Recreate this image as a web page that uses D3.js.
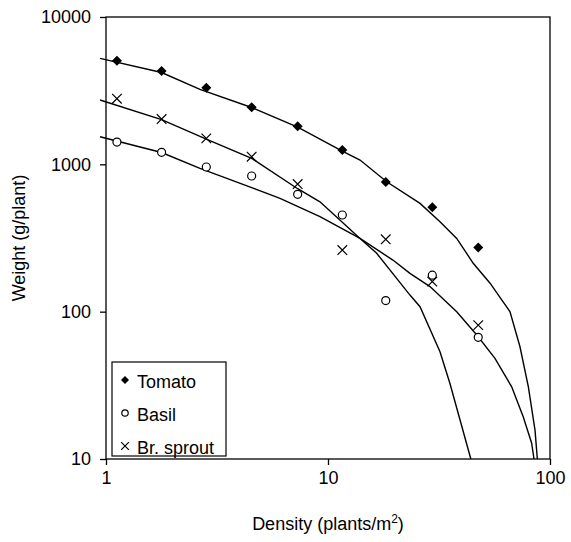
<!DOCTYPE html>
<html>
<head>
<meta charset="utf-8">
<script src="https://cdn.jsdelivr.net/npm/d3@7"></script>
<style>
  html, body { margin: 0; padding: 0; background: #fff; }
  svg { display: block; font-family: Arial, "Liberation Sans", sans-serif; }
</style>
</head>
<body>
<svg id="chart" width="571" height="542"></svg>
<script>
// Planting density (plants/m2) at which each crop was sampled
const density = [1.12, 1.78, 2.83, 4.53, 7.3, 11.6, 18.2, 29.5, 47.5];

// Measured weight per plant (g)
const tomato = [5050, 4300, 3310, 2440, 1810, 1250, 760, 511, 273];
const basil  = [1417, 1206, 959, 833, 626, 453, 119, 177, 67];
const sprout = [2790, 2030, 1500, 1127, 735, 262, 310, 160, 81];

// Fitted curves, as [density, weight] pairs
const tomatoFit = [[0.94, 5243], [1.78, 4200], [2.65, 3230], [4.53, 2430], [7.30, 1791],
  [11.6, 1231], [13.94, 1070], [18.38, 762], [25.97, 543], [31.95, 408], [38.0, 314],
  [45.1, 213], [53.7, 156], [66.0, 100], [73.2, 58], [79.9, 30.9], [85.6, 15.7], [87.7, 10]];
const basilFit = [[0.94, 1540], [1.78, 1203], [2.65, 939], [4.53, 694], [6.08, 588],
  [9.20, 441], [13.94, 314], [19.6, 224], [23.4, 182], [28.8, 148], [38.0, 99.8],
  [46.8, 69.4], [56.5, 48.2], [67.2, 30.9], [75.8, 19.3], [82.7, 12.8], [84.7, 10]];
const sproutFit = [[0.94, 2733], [1.78, 2014], [2.83, 1485], [4.53, 1098], [7.30, 683],
  [9.20, 557], [13.94, 314], [16.57, 249], [23.4, 129.6], [25.97, 108], [31.95, 53.4],
  [35.4, 32.7], [44.0, 10]];

const xTicks = [1, 10, 100];
const yTicks = [10, 100, 1000, 10000];
const legendNames = ["Tomato", "Basil", "Br. sprout"];

const svg = d3.select("#chart");
const plotL = 106, plotR = 550, plotT = 17, plotB = 459;

const x = d3.scaleLog().domain([1, 100]).range([plotL, plotR]);
const y = d3.scaleLog().domain([10, 10000]).range([plotB, plotT]);

const fontSize = 18;

// Axes
const xAxis = d3.axisBottom(x).tickValues(xTicks).tickFormat(d3.format("d"))
  .tickSize(6).tickPadding(6);
const yAxis = d3.axisLeft(y).tickValues(yTicks).tickFormat(d3.format("d"))
  .tickSize(6).tickPadding(9);

const gx = svg.append("g").attr("transform", `translate(0,${plotB})`).call(xAxis);
const gy = svg.append("g").attr("transform", `translate(${plotL},0)`).call(yAxis);
[gx, gy].forEach(g => {
  g.select(".domain").remove();
  g.selectAll(".tick line").attr("stroke", "#000").attr("stroke-width", 1.3);
  g.selectAll(".tick text").attr("fill", "#000")
    .style("font-size", fontSize + "px")
    .style("font-family", 'Arial, "Liberation Sans", sans-serif');
});

// Plot frame
svg.append("rect")
  .attr("x", plotL).attr("y", plotT)
  .attr("width", plotR - plotL).attr("height", plotB - plotT)
  .attr("fill", "none").attr("stroke", "#000").attr("stroke-width", 1.3);

// Fitted curves
const line = d3.line().x(d => x(d[0])).y(d => y(d[1]));
[tomatoFit, basilFit, sproutFit].forEach(fit => {
  svg.append("path").datum(fit)
    .attr("d", line)
    .attr("fill", "none").attr("stroke", "#000").attr("stroke-width", 1.4);
});

// Marker shapes; k scales the marker size
function drawMarker(g, kind, cx, cy, k = 1) {
  if (kind === "diamond") {
    const s = 5 * k;
    g.append("path")
      .attr("d", `M${cx},${cy - s}L${cx + s},${cy}L${cx},${cy + s}L${cx - s},${cy}Z`)
      .attr("fill", "#000");
  } else if (kind === "circle") {
    g.append("circle").attr("cx", cx).attr("cy", cy).attr("r", 4 * k)
      .attr("fill", "#fff").attr("stroke", "#000").attr("stroke-width", 1.2);
  } else {
    const s = 4.8 * k;
    g.append("path")
      .attr("d", `M${cx - s},${cy - s}L${cx + s},${cy + s}M${cx - s},${cy + s}L${cx + s},${cy - s}`)
      .attr("stroke", "#000").attr("stroke-width", 1.2).attr("fill", "none");
  }
}

const series = [
  { values: tomato, kind: "diamond" },
  { values: basil, kind: "circle" },
  { values: sprout, kind: "cross" }
];
const pts = svg.append("g");
series.forEach(s => {
  s.values.forEach((v, i) => drawMarker(pts, s.kind, x(density[i]), y(v)));
});

// Legend
const lg = svg.append("g");
lg.append("rect").attr("x", 112).attr("y", 362).attr("width", 114).attr("height", 94)
  .attr("fill", "#fff").attr("stroke", "#000").attr("stroke-width", 1.2);
legendNames.forEach((name, i) => {
  const cy = 379 + i * 33;
  drawMarker(lg, series[i].kind, 125, cy + 1, 0.8);
  lg.append("text").attr("x", 137).attr("y", cy + 4)
    .attr("dominant-baseline", "middle")
    .style("font-size", fontSize + "px").attr("fill", "#000")
    .text(name);
});

// Axis titles
const xt = svg.append("text")
  .attr("x", (plotL + plotR) / 2).attr("y", 530)
  .attr("text-anchor", "middle")
  .style("font-size", fontSize + "px").attr("fill", "#000");
xt.append("tspan").text("Density (plants/m");
xt.append("tspan").attr("dy", -7).style("font-size", "12px").text("2");
xt.append("tspan").attr("dy", 7).text(")");

svg.append("text")
  .attr("transform", `translate(25,${(plotT + plotB) / 2}) rotate(-90)`)
  .attr("text-anchor", "middle")
  .style("font-size", fontSize + "px").attr("fill", "#000")
  .text("Weight (g/plant)");
</script>
</body>
</html>
